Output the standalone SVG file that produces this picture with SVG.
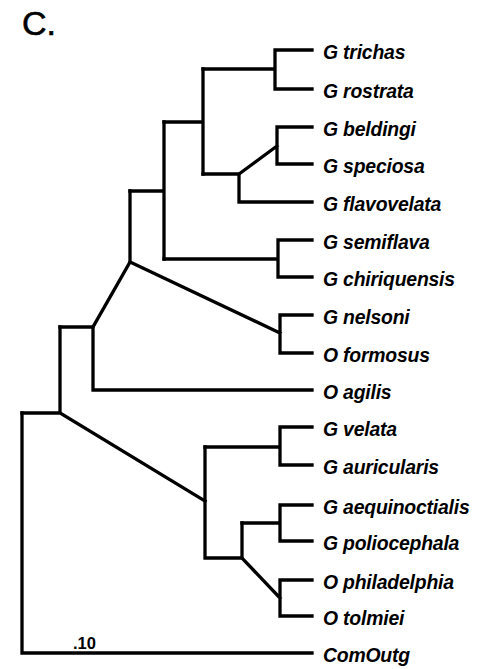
<svg xmlns="http://www.w3.org/2000/svg" width="483" height="669" viewBox="0 0 483 669">
<style>
.br{fill:none;stroke:#000;stroke-width:3.3;stroke-linejoin:miter;stroke-linecap:square}
.lb{font-family:"Liberation Sans",Arial,sans-serif;font-weight:bold;font-style:italic;font-size:19.4px;letter-spacing:-0.2px;fill:#000}
.ttl{font-family:"Liberation Sans",Arial,sans-serif;font-size:34px;fill:#000;stroke:#000;stroke-width:0.6}
.sc{font-family:"Liberation Sans",Arial,sans-serif;font-weight:bold;font-size:16.5px;fill:#000}
</style>
<rect width="483" height="669" fill="#fff"/>
<text class="ttl" x="22" y="35">C.</text>
<g id="connectors">
<path class="br" d="M312,50 H275 V89 H312 M275,69 H203"/>
<path class="br" d="M312,127 H277 V164 H312 M277,146 L239,174"/>
<path class="br" d="M239,174 V202 H312 M239,174 H203"/>
<path class="br" d="M203,69 V174 M203,122 H164"/>
<path class="br" d="M312,240 H278 V277 H312 M278,259 H164"/>
<path class="br" d="M164,122 V259 M164,191 H130"/>
<path class="br" d="M312,315 H280 V353 H312 M280,333 L130,262"/>
<path class="br" d="M130,191 V262 L93,327"/>
<path class="br" d="M93,327 V390 H312 M93,327 H60"/>
<path class="br" d="M60,327 V413 M60,413 H22 M60,413 L205,501"/>
<path class="br" d="M312,427 H280 V465 H312 M280,447 H205"/>
<path class="br" d="M312,505 H280 V541 H312 M280,523 H242"/>
<path class="br" d="M312,580 H280 V616 H312 M280,598 L242,558"/>
<path class="br" d="M242,523 V558 H205 V447"/>
<path class="br" d="M22,413 V653 H312"/>
</g>
<g id="n-trichas"><text class="lb" x="323" y="59">G trichas</text></g>
<g id="n-rostrata"><text class="lb" x="323" y="98">G rostrata</text></g>
<g id="n-beldingi"><text class="lb" x="323" y="136">G beldingi</text></g>
<g id="n-speciosa"><text class="lb" x="323" y="173">G speciosa</text></g>
<g id="n-flavovelata"><text class="lb" x="323" y="211">G flavovelata</text></g>
<g id="n-semiflava"><text class="lb" x="323" y="249">G semiflava</text></g>
<g id="n-chiriquensis"><text class="lb" x="323" y="286">G chiriquensis</text></g>
<g id="n-nelsoni"><text class="lb" x="323" y="324">G nelsoni</text></g>
<g id="n-formosus"><text class="lb" x="323" y="362">O formosus</text></g>
<g id="n-agilis"><text class="lb" x="323" y="399">O agilis</text></g>
<g id="n-velata"><text class="lb" x="323" y="436">G velata</text></g>
<g id="n-auricularis"><text class="lb" x="323" y="474">G auricularis</text></g>
<g id="n-aequinoctialis"><text class="lb" x="323" y="514">G aequinoctialis</text></g>
<g id="n-poliocephala"><text class="lb" x="323" y="550">G poliocephala</text></g>
<g id="n-philadelphia"><text class="lb" x="323" y="589">O philadelphia</text></g>
<g id="n-tolmiei"><text class="lb" x="323" y="625">O tolmiei</text></g>
<g id="n-comoutg"><text class="lb" x="323" y="662">ComOutg</text></g>
<text class="sc" x="73" y="649">.10</text>
</svg>
